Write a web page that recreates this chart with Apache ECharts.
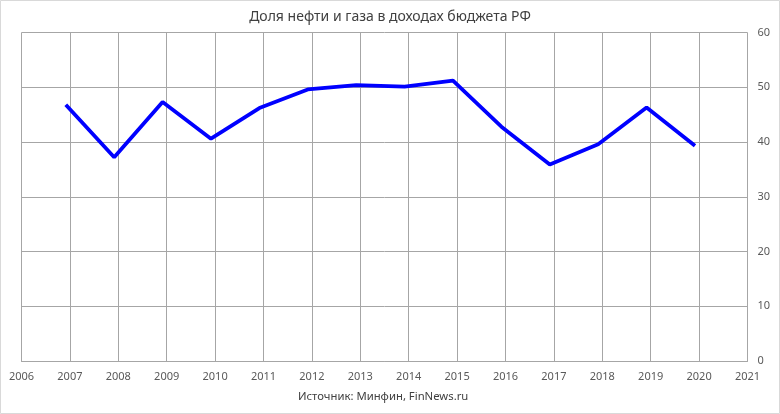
<!DOCTYPE html>
<html><head><meta charset="utf-8">
<script src="https://cdn.jsdelivr.net/npm/echarts@6/dist/echarts.min.js"></script>
<style>html,body{margin:0;padding:0;background:#fff}#c{width:780px;height:414px}</style>
</head><body><div id="c"></div>
<script>
const titleText = 'Доля нефти и газа в доходах бюджета РФ';
const sourceText = 'Источник: Минфин, FinNews.ru';
const years = [2007,2008,2009,2010,2011,2012,2013,2014,2015,2016,2017,2018,2019,2020];
const shares = [46.8,37.2,47.3,40.6,46.2,49.6,50.4,50.1,51.2,42.8,35.9,39.6,46.3,39.3];
const yTicks = [0,10,20,30,40,50,60];

const chart = echarts.init(document.getElementById('c'), null, {renderer:'canvas'});
const font = '"Noto Sans", sans-serif';
chart.setOption({
  animation:false,
  backgroundColor:'#fff',
  title:{text:titleText,left:'center',top:5,textStyle:{fontFamily:font,fontSize:14,fontWeight:'normal',color:'#404040'}},
  graphic:[
    {type:'text',left:298,top:391,style:{text:sourceText,font:'11.3px "Noto Sans", sans-serif',fill:'#404040'}},
    {type:'rect',shape:{x:0.5,y:0.5,width:779,height:413},style:{fill:null,stroke:'#d9d9d9',lineWidth:1},silent:true}
  ],
  grid:{left:21.5,right:32.5,top:32.5,bottom:53,containLabel:false},
  xAxis:[
    {type:'value',min:2006,max:2021,interval:1,
     axisLine:{show:true,lineStyle:{color:'#a6a6a6'}},axisTick:{show:false},
     axisLabel:{fontFamily:font,fontSize:11,color:'#595959',margin:10,formatter:v=>String(v)},
     splitLine:{show:true,lineStyle:{color:'#a6a6a6',width:1}}},
    {type:'value',min:2006.085,max:2021.085,show:false,splitLine:{show:false}}
  ],
  yAxis:{type:'value',position:'right',min:yTicks[0],max:yTicks[yTicks.length-1],interval:10,
     axisLine:{show:false},axisTick:{show:false},
     axisLabel:{fontFamily:font,fontSize:11,color:'#595959',margin:10},
     splitLine:{show:true,lineStyle:{color:'#a6a6a6',width:1}}},
  series:[{type:'line',xAxisIndex:1,data:years.map((y,i)=>[y,shares[i]]),
     symbol:'none',lineStyle:{color:'#0000ff',width:3.8},itemStyle:{color:'#0000ff'}}]
});
</script></body></html>
